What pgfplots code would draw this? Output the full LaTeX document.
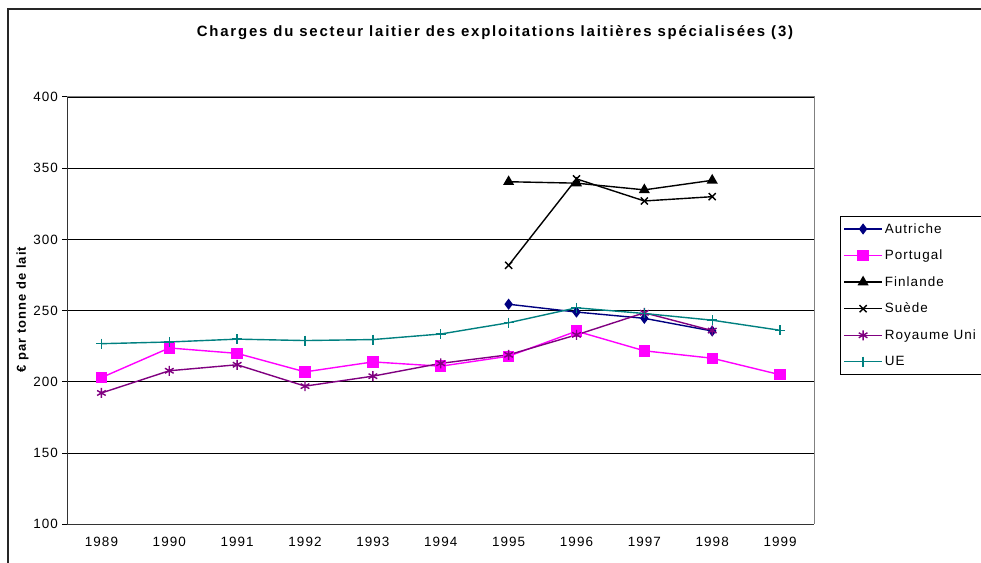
\documentclass[border=0pt]{standalone}
\usepackage{pgfplots}
\pgfplotsset{compat=1.18}
\usepackage{fontspec}
\setmainfont{Liberation Sans}
\newfontfamily\spaced[LetterSpace=8]{Liberation Sans}
\newfontfamily\titlefont[LetterSpace=12]{Liberation Sans}
\definecolor{cAut}{RGB}{0,0,128}
\definecolor{cPor}{RGB}{255,0,255}
\definecolor{cRU}{RGB}{128,0,128}
\definecolor{cUE}{RGB}{0,128,128}
\begin{document}
\begin{tikzpicture}[x=1bp,y=1bp]
\path[use as bounding box] (-67.5,-38.7) rectangle (913.5,524.3);
\begin{axis}[
  at={(0,0)}, anchor=south west,
  scale only axis, width=746.5bp, height=427.3bp,
  xmin=-0.5, xmax=10.5, ymin=100, ymax=400,
  xtick={0,...,10},
  xticklabels={1989,1990,1991,1992,1993,1994,1995,1996,1997,1998,1999},
  minor xtick={-0.5,0.5,...,10.5},
  ytick={100,150,...,400},
  ymajorgrids, major grid style={black, line width=0.8bp},
  axis x line*=bottom, axis y line*=left,
  axis line style={black!80, line width=1.2bp, -},
  x tick style={draw=none},
  minor x tick style={black, line width=1bp},
  y tick style={black, line width=1bp},
  tick align=outside, major tick length=5bp, minor tick length=5bp,
  tick label style={font=\spaced\fontsize{13.5}{15}\selectfont},
  /pgf/number format/assume math mode=true,
  /pgf/number format/1000 sep={},
  xticklabel style={yshift=-4bp},
  yticklabel style={xshift=-1bp},
  legend style={at={(rel axis cs:1.0348,0.7215)}, anchor=north west,
    draw=black, line width=0.8bp, font=\spaced\fontsize{13.5}{15}\selectfont,
    row sep=11.3bp, inner xsep=3bp, inner ysep=5bp, cells={anchor=west}},
  legend cell align=left,
  legend image code/.code={%
    \draw[#1] (0bp,0bp) -- (38bp,0bp);
    \path[#1, solid] plot coordinates {(19bp,0bp)};},
  every axis plot/.append style={line width=1.4bp},
  clip=false,
]
\addplot[color=cAut, mark=diamond*, mark size=4.5bp, mark options={fill=cAut}]
  coordinates {(6,254.5) (7,249) (8,244.6) (9,235.7)};
\addlegendentry{Autriche}
\addplot[color=cPor, mark=square*, mark size=5bp, mark options={fill=cPor}]
  coordinates {(0,203) (1,223.8) (2,220) (3,207) (4,214) (5,211) (6,218) (7,235.6) (8,221.8) (9,216.6) (10,205)};
\addlegendentry{Portugal}
\addplot[color=black, mark=triangle*, mark size=5bp, mark options={fill=black}]
  coordinates {(6,340.5) (7,339.5) (8,334.8) (9,341.5)};
\addlegendentry{Finlande}
\addplot[color=black, mark=x, mark size=5bp]
  coordinates {(6,281.8) (7,342.5) (8,327) (9,330)};
\addlegendentry{Suède}
\addplot[color=cRU, mark=asterisk, mark size=5bp]
  coordinates {(0,192.2) (1,207.8) (2,212) (3,197) (4,204) (5,213) (6,219) (7,233) (8,248.5) (9,236)};
\addlegendentry{Royaume Uni}
\addplot[color=cUE, mark=+, mark size=5bp]
  coordinates {(0,226.8) (1,228) (2,230) (3,229) (4,229.7) (5,233.6) (6,241.5) (7,252) (8,248) (9,243.3) (10,236.2)};
\addlegendentry{UE}
\draw[gray, line width=1bp] (rel axis cs:0,1) -- (rel axis cs:1,1) -- (rel axis cs:1,0);
\end{axis}
\node[font=\titlefont\bfseries\fontsize{15}{17}\selectfont] at (427.5,491.3)
  {Charges du secteur laitier des exploitations laitières spécialisées (3)};
\node[rotate=90, font=\spaced\bfseries\fontsize{13}{15}\selectfont] at (-45,214.8)
  {€ par tonne de lait};
\draw[black!85, line width=2bp] (-59,-38.7) -- (-59,515.3) -- (913.5,515.3);
\end{tikzpicture}
\end{document}
